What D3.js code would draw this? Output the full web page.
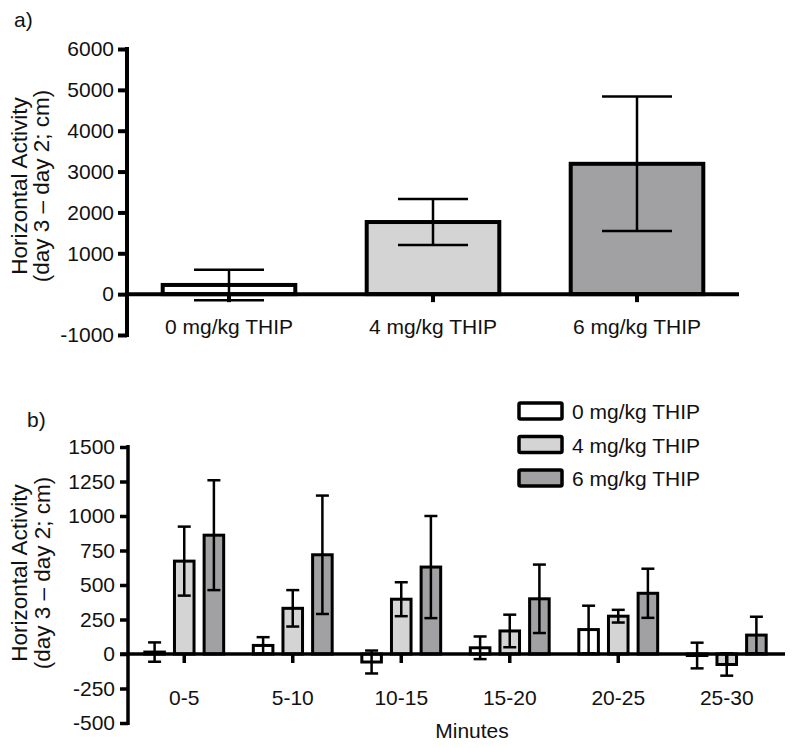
<!DOCTYPE html>
<html><head><meta charset="utf-8">
<script src="https://cdn.jsdelivr.net/npm/d3@7"></script>
<style>
html,body{margin:0;padding:0;background:#fff;}
text{font-family:"Liberation Sans",Arial,sans-serif;fill:#111;}
</style></head>
<body><svg id="c" width="800" height="748"></svg>
<script>
// ---- Panel a data ----
const catsA = ["0 mg/kg THIP", "4 mg/kg THIP", "6 mg/kg THIP"];
const meanA = [225, 1765, 3190];
const semA = [375, 565, 1645];
const ticksA = [-1000, 0, 1000, 2000, 3000, 4000, 5000, 6000];

// ---- Panel b data ----
const minutes = ["0-5", "5-10", "10-15", "15-20", "20-25", "25-30"];
const series = ["0 mg/kg THIP", "4 mg/kg THIP", "6 mg/kg THIP"];
const mean0 = [14, 62, -58, 45, 177, -11];
const mean4 = [673, 331, 397, 167, 274, -76];
const mean6 = [861, 719, 630, 400, 440, 137];
const sem0 = [70, 60, 83, 82, 173, 93];
const sem4 = [250, 132, 123, 118, 46, 81];
const sem6 = [398, 429, 370, 248, 178, 133];
const ticksB = [-500, -250, 0, 250, 500, 750, 1000, 1250, 1500];

const fills = ["#ffffff", "#d4d4d4", "#a1a1a4"];
const svg = d3.select("#c");
const FS = 21;
const fmt = d => String(d);

// ================= Panel a =================
const gA = svg.append("g");
const yA = d3.scaleLinear().domain([-1000, 6000]).range([335, 49]);
const xA = d3.scaleBand().domain(catsA).range([127, 739]).paddingInner(0.35).paddingOuter(0.175);

gA.append("text").attr("x", 14).attr("y", 27).attr("font-size", FS).text("a)");

const dataA = catsA.map((c, i) => ({c, m: meanA[i], s: semA[i], f: fills[i]}));
gA.selectAll("rect.bar").data(dataA).join("rect")
  .attr("x", d => xA(d.c)).attr("width", xA.bandwidth())
  .attr("y", d => yA(Math.max(0, d.m))).attr("height", d => Math.abs(yA(d.m) - yA(0)))
  .attr("fill", d => d.f).attr("stroke", "#000").attr("stroke-width", 4);

const errA = gA.selectAll("g.err").data(dataA).join("g");
errA.append("line").attr("x1", d => xA(d.c) + xA.bandwidth() / 2).attr("x2", d => xA(d.c) + xA.bandwidth() / 2)
  .attr("y1", d => yA(d.m + d.s)).attr("y2", d => yA(d.m - d.s)).attr("stroke", "#000").attr("stroke-width", 2.5);
[1, -1].forEach(sg => {
  errA.append("line").attr("x1", d => xA(d.c) + xA.bandwidth() / 2 - 35).attr("x2", d => xA(d.c) + xA.bandwidth() / 2 + 35)
    .attr("y1", d => yA(d.m + sg * d.s)).attr("y2", d => yA(d.m + sg * d.s)).attr("stroke", "#000").attr("stroke-width", 2.5);
});

// y axis a
const axYA = gA.append("g").attr("transform", "translate(127,0)")
  .call(d3.axisLeft(yA).tickValues(ticksA).tickSize(9).tickPadding(4).tickFormat(fmt));
axYA.select(".domain").remove();
axYA.selectAll(".tick line").attr("stroke", "#000").attr("stroke-width", 4);
axYA.selectAll(".tick text").attr("font-size", FS).attr("font-family", "Liberation Sans, Arial, sans-serif").attr("fill", "#111");
gA.append("line").attr("x1", 127).attr("x2", 127).attr("y1", yA(6000) - 2).attr("y2", yA(-1000) + 2)
  .attr("stroke", "#000").attr("stroke-width", 4);
// x axis a
const axXA = gA.append("g").attr("transform", `translate(0,${yA(0)})`)
  .call(d3.axisBottom(xA).tickSize(8).tickPadding(17));
axXA.select(".domain").remove();
axXA.selectAll(".tick line").attr("stroke", "#000").attr("stroke-width", 4);
axXA.selectAll(".tick text").attr("font-size", FS).attr("font-family", "Liberation Sans, Arial, sans-serif").attr("fill", "#111");
gA.append("line").attr("x1", 125).attr("x2", 739).attr("y1", yA(0)).attr("y2", yA(0))
  .attr("stroke", "#000").attr("stroke-width", 4);

// y title a
const tA = gA.append("text").attr("transform", "translate(0,186) rotate(-90)").attr("text-anchor", "middle").attr("font-size", 22.5);
tA.append("tspan").attr("x", 0).attr("y", 27).text("Horizontal Activity");
tA.append("tspan").attr("x", 0).attr("y", 49).text("(day 3 \u2013 day 2; cm)");

// ================= Panel b =================
const gB = svg.append("g");
const yB = d3.scaleLinear().domain([-500, 1500]).range([723, 447]);
const x0 = d3.scaleBand().domain(minutes).range([130, 781]).padding(0);
const x1 = d3.scaleBand().domain(series).range([0, x0.bandwidth()]).paddingInner(0.34).paddingOuter(0.5);

gB.append("text").attr("x", 27).attr("y", 427).attr("font-size", FS).text("b)");

const means = [mean0, mean4, mean6];
const sems = [sem0, sem4, sem6];
const dataB = [];
minutes.forEach((m, i) => series.forEach((s, j) => dataB.push({m, s, j, v: means[j][i], e: sems[j][i]})));
const cx = d => x0(d.m) + x1(d.s) + x1.bandwidth() / 2;

gB.selectAll("rect.bar").data(dataB).join("rect")
  .attr("x", d => x0(d.m) + x1(d.s)).attr("width", x1.bandwidth())
  .attr("y", d => yB(Math.max(0, d.v))).attr("height", d => Math.abs(yB(d.v) - yB(0)))
  .attr("fill", d => fills[d.j]).attr("stroke", "#000").attr("stroke-width", 3);

const errB = gB.selectAll("g.err").data(dataB).join("g");
errB.append("line").attr("x1", cx).attr("x2", cx)
  .attr("y1", d => yB(d.v + d.e)).attr("y2", d => yB(d.v - d.e)).attr("stroke", "#000").attr("stroke-width", 2.5);
[1, -1].forEach(sg => {
  errB.append("line").attr("x1", d => cx(d) - 6.5).attr("x2", d => cx(d) + 6.5)
    .attr("y1", d => yB(d.v + sg * d.e)).attr("y2", d => yB(d.v + sg * d.e)).attr("stroke", "#000").attr("stroke-width", 2.5);
});

// y axis b
const axYB = gB.append("g").attr("transform", "translate(128,0)")
  .call(d3.axisLeft(yB).tickValues(ticksB).tickSize(8).tickPadding(5).tickFormat(fmt));
axYB.select(".domain").remove();
axYB.selectAll(".tick line").attr("stroke", "#000").attr("stroke-width", 3.5);
axYB.selectAll(".tick text").attr("font-size", FS).attr("font-family", "Liberation Sans, Arial, sans-serif").attr("fill", "#111");
gB.append("line").attr("x1", 128).attr("x2", 128).attr("y1", yB(1500) - 2).attr("y2", yB(-500) + 2)
  .attr("stroke", "#000").attr("stroke-width", 3.5);
// x axis b
const axXB = gB.append("g").attr("transform", `translate(0,${yB(0)})`)
  .call(d3.axisBottom(x0).tickSize(9).tickPadding(27));
axXB.select(".domain").remove();
axXB.selectAll(".tick line").attr("stroke", "#000").attr("stroke-width", 3.5);
axXB.selectAll(".tick text").attr("font-size", FS).attr("font-family", "Liberation Sans, Arial, sans-serif").attr("fill", "#111");
gB.append("line").attr("x1", 120).attr("x2", 785).attr("y1", yB(0)).attr("y2", yB(0))
  .attr("stroke", "#000").attr("stroke-width", 3.5);

gB.append("text").attr("x", 472).attr("y", 738).attr("text-anchor", "middle").attr("font-size", FS).text("Minutes");

// y title b
const tB = gB.append("text").attr("transform", "translate(0,573) rotate(-90)").attr("text-anchor", "middle").attr("font-size", 22.5);
tB.append("tspan").attr("x", 0).attr("y", 27).text("Horizontal Activity");
tB.append("tspan").attr("x", 0).attr("y", 50).text("(day 3 \u2013 day 2; cm)");

// legend
const legY = d3.scalePoint().domain(series).range([411, 478]);
const leg = gB.selectAll("g.leg").data(series).join("g").attr("transform", s => `translate(519,${legY(s)})`);
leg.append("rect").attr("x", 0).attr("y", -8).attr("width", 43).attr("height", 16)
  .attr("fill", (s, i) => fills[i]).attr("stroke", "#000").attr("stroke-width", 3.5).attr("rx", 1.5);
leg.append("text").attr("x", 53).attr("y", 8).attr("font-size", FS).text(s => s);
</script></body></html>
